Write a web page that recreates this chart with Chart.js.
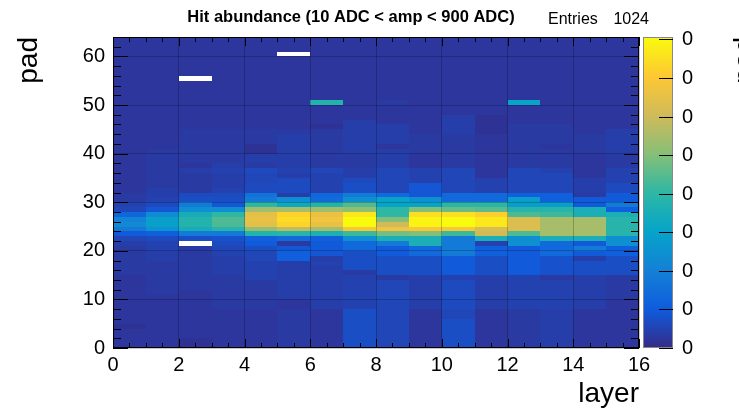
<!DOCTYPE html>
<html>
<head>
<meta charset="utf-8">
<script src="https://cdn.jsdelivr.net/npm/chart.js@4.4.1/dist/chart.umd.min.js"></script>
<style>
  html, body { margin: 0; padding: 0; background: #fff; }
  #wrap { position: relative; width: 739px; height: 411px; }
</style>
</head>
<body>
<div id="wrap"><canvas id="c" width="739" height="411"></canvas></div>
<script>
// Hit abundance per (layer, pad) cell, in percent of the colour-scale maximum.
// Each array lists pads 0..63 for one layer. A value of 0 means no hits (cell left empty).
const layer0  = [3,3,3,3,2,3,3,3,3,3, 3,3,3,3,3,4,4,4,4,4, 4,5,7,12,23,28,26,16,7,6, 4,4,3,3,3,3,3,3,3,3, 3,3,3,3,3,3,3,3,3,3, 3,3,3,3,3,3,3,3,3,3, 3,3,3,3];
const layer1  = [3,3,3,3,3,3,3,3,3,3, 3,4,4,4,4,4,4,4,5,5, 6,6,8,14,32,36,36,29,11,8, 6,5,5,4,4,4,4,4,4,4, 4,3,3,3,3,3,3,3,3,3, 3,3,3,3,3,3,3,3,3,3, 3,3,3,3];
const layer2  = [2,2,3,3,3,3,3,3,3,3, 3,3,4,4,4,4,4,4,4,4, 4,0,9,23,43,47,47,43,30,23, 9,8,4,4,4,4,5,3,4,4, 4,4,4,4,4,3,3,3,3,3, 3,3,3,3,3,0,3,3,3,3, 3,3,3,3];
const layer3  = [3,3,3,3,3,3,3,3,4,4, 4,4,4,4,4,5,5,5,5,6, 7,8,10,23,48,54,55,50,30,11, 9,8,6,5,5,5,6,5,4,4, 4,4,4,4,4,3,3,3,3,3, 3,3,3,3,3,3,3,3,3,3, 3,3,3,3];
const layer4  = [3,3,3,3,3,3,3,3,4,4, 4,4,4,4,6,6,6,6,7,7, 9,12,14,47,65,80,82,80,67,50, 23,20,8,8,7,7,8,4,5,5, 2,2,4,4,4,3,3,3,3,3, 3,3,3,3,3,3,3,3,3,3, 3,3,3,3];
const layer5  = [4,4,4,4,4,4,4,4,3,3, 5,5,5,5,5,5,5,5,14,14, 11,4,17,48,72,90,92,90,68,40, 30,5,8,8,8,5,6,5,5,5, 5,5,5,5,4,3,3,3,3,3, 3,3,3,3,3,3,3,3,3,3, 0,3,3,3];
const layer6  = [3,3,3,3,3,3,3,3,5,5, 5,5,5,5,5,5,5,6,5,11, 12,12,14,45,68,82,84,82,67,47, 18,16,6,6,6,6,7,4,4,4, 4,4,4,4,4,2,3,3,3,3, 47,3,3,3,3,3,3,3,3,3, 3,3,3,3];
const layer7  = [9,9,9,9,9,9,9,9,6,6, 6,6,6,6,6,4,9,9,9,9, 17,17,30,52,86,100,100,95,64,55, 30,23,9,9,8,5,5,4,4,4, 5,5,5,5,5,5,5,3,3,3, 3,3,3,3,3,3,3,3,3,3, 3,3,3,3];
const layer8  = [7,7,7,7,7,7,7,7,7,7, 7,7,7,7,4,9,9,9,9,12, 12,23,44,60,83,75,62,50,50,38, 38,17,7,7,7,7,7,5,5,5, 5,3,5,5,5,5,3,3,3,3, 4,3,3,3,3,3,3,3,3,3, 3,3,3,3];
const layer9  = [3,3,3,3,3,3,3,3,5,5, 5,5,5,5,5,9,9,9,9,17, 17,44,44,62,86,98,98,93,62,38, 30,11,11,11,6,6,6,3,3,3, 4,4,4,4,3,3,3,3,3,3, 3,3,3,3,3,3,3,3,3,3, 3,3,3,3];
const layer10 = [9,9,9,9,9,9,7,7,8,8, 8,8,8,8,6,12,12,12,12,23, 23,23,23,52,86,100,100,93,58,49, 17,17,7,7,7,7,7,4,4,4, 4,4,4,4,5,5,5,5,3,3, 3,3,3,3,3,3,3,3,3,3, 3,3,3,3];
const layer11 = [3,3,3,3,3,3,3,3,5,5, 5,5,5,5,5,9,9,9,9,14, 14,6,44,75,77,95,95,89,56,49, 17,17,6,6,6,3,3,3,3,3, 3,3,3,3,2,2,2,2,3,3, 3,3,3,3,3,3,3,3,3,3, 3,3,3,3];
const layer12 = [4,4,4,4,4,4,4,4,6,6, 6,6,6,6,6,12,12,12,12,12, 12,30,30,54,78,78,78,54,48,35, 35,14,7,7,7,7,7,4,4,4, 4,4,4,4,4,4,3,3,3,3, 38,3,3,3,3,3,3,3,3,3, 3,3,3,3];
const layer13 = [5,5,5,5,5,5,5,5,6,6, 6,6,6,6,4,10,10,10,10,17, 17,17,44,68,68,68,68,52,48,35, 14,14,7,7,7,7,6,4,4,4, 4,3,4,4,4,4,3,3,3,3, 3,3,3,3,3,3,3,3,3,3, 3,3,3,3];
const layer14 = [3,3,3,3,3,3,3,3,5,5, 5,5,5,5,5,9,9,9,5,12, 23,12,44,68,68,68,68,44,44,12, 12,4,5,5,5,3,3,3,3,3, 4,4,4,4,3,3,3,3,3,3, 3,3,3,3,3,3,3,3,3,3, 3,3,3,3];
const layer15 = [3,3,3,3,3,3,3,3,3,3, 4,4,4,4,4,9,9,9,9,14, 14,30,30,48,48,48,48,44,14,23, 12,12,8,8,6,6,6,4,4,4, 5,5,5,5,5,3,3,3,3,3, 3,3,3,3,3,3,3,3,3,3, 3,3,3,3];

const hitsByLayer = [layer0, layer1, layer2, layer3, layer4, layer5, layer6, layer7,
                     layer8, layer9, layer10, layer11, layer12, layer13, layer14, layer15];

// Axis ranges and tick labels
const layerTicks = [0, 2, 4, 6, 8, 10, 12, 14, 16];
const padTicks = [0, 10, 20, 30, 40, 50, 60];
const zMax = 100;
const zTicks = [0, 12.4, 24.8, 37.2, 49.6, 62, 74.4, 86.8, 99.2];
const zTickLabels = ['0', '0', '0', '0', '0', '0', '0', '0', '0'];

const titleText = 'Hit abundance (10 ADC < amp < 900 ADC)';
const statsLabel = 'Entries';
const statsValue = '1024';

// kBird palette stops
const birdStops = [0, 0.125, 0.25, 0.375, 0.5, 0.625, 0.75, 0.875, 1];
const birdR = [0.2082, 0.0592, 0.0780, 0.0232, 0.1802, 0.5301, 0.8186, 0.9956, 0.9764];
const birdG = [0.1664, 0.3599, 0.5041, 0.6419, 0.7178, 0.7492, 0.7328, 0.7862, 0.9832];
const birdB = [0.5293, 0.8684, 0.8385, 0.7914, 0.6425, 0.4662, 0.3499, 0.1968, 0.0539];

function birdColor(f) {
  f = Math.max(0, Math.min(1, f));
  let k = 0;
  while (k < birdStops.length - 2 && f > birdStops[k + 1]) k++;
  const t = (f - birdStops[k]) / (birdStops[k + 1] - birdStops[k]);
  const mix = (a) => Math.round(255 * (a[k] + (a[k + 1] - a[k]) * t));
  return `rgb(${mix(birdR)},${mix(birdG)},${mix(birdB)})`;
}

// One point per cell, centred in its bin; the plugin below paints the bins.
const cells = [];
hitsByLayer.forEach((pads, layer) => {
  pads.forEach((v, pad) => cells.push({ x: layer + 0.5, y: pad + 0.5, v: v }));
});

const FONT = "'Liberation Sans', Arial, Helvetica, sans-serif";

const heatmapPlugin = {
  id: 'heatmap',
  beforeDatasetsDraw(chart) {
    const { ctx, scales: { x, y }, chartArea: a } = chart;
    ctx.save();
    ctx.beginPath();
    ctx.rect(a.left, a.top, a.right - a.left, a.bottom - a.top);
    ctx.clip();
    for (const c of chart.data.datasets[0].data) {
      if (c.v <= 0) continue;
      const x0 = Math.round(x.getPixelForValue(c.x - 0.5));
      const x1 = Math.round(x.getPixelForValue(c.x + 0.5));
      const y0 = Math.round(y.getPixelForValue(c.y + 0.5));
      const y1 = Math.round(y.getPixelForValue(c.y - 0.5));
      ctx.fillStyle = birdColor(c.v / zMax);
      ctx.fillRect(x0, y0, x1 - x0, y1 - y0);
    }
    ctx.restore();
  },
  afterDraw(chart) {
    const { ctx, scales: { x, y }, chartArea: a } = chart;
    ctx.save();
    // frame
    ctx.strokeStyle = '#000';
    ctx.lineWidth = 1;
    ctx.strokeRect(a.left + 0.5, a.top + 0.5, a.right - a.left - 1, a.bottom - a.top - 1);

    // inward ticks on all four sides
    ctx.beginPath();
    for (let v = 0; v <= 16.0001; v += 0.5) {
      const px = Math.round(x.getPixelForValue(v)) + 0.5;
      const len = (Math.abs(v % 2) < 1e-6) ? 9 : 5;
      ctx.moveTo(px, a.bottom); ctx.lineTo(px, a.bottom - len);
      ctx.moveTo(px, a.top); ctx.lineTo(px, a.top + len);
    }
    for (let v = 0; v <= 64; v += 2) {
      const py = Math.round(y.getPixelForValue(v)) + 0.5;
      const len = (v % 10 === 0) ? 15 : 8;
      ctx.moveTo(a.left, py); ctx.lineTo(a.left + len, py);
      ctx.moveTo(a.right, py); ctx.lineTo(a.right - len, py);
    }
    ctx.stroke();

    // colour scale
    const bx0 = a.right + 4, bx1 = a.right + 34;
    for (let py = a.top; py < a.bottom; py++) {
      const f = (a.bottom - py - 0.5) / (a.bottom - a.top);
      ctx.fillStyle = birdColor(f);
      ctx.fillRect(bx0, py, bx1 - bx0, 1);
    }
    ctx.strokeStyle = '#888';
    ctx.strokeRect(bx0 + 0.5, a.top + 0.5, bx1 - bx0 - 1, a.bottom - a.top - 1);
    ctx.strokeStyle = '#000';
    ctx.fillStyle = '#000';
    ctx.font = `20px ${FONT}`;
    ctx.textAlign = 'left';
    ctx.textBaseline = 'middle';
    ctx.beginPath();
    zTicks.forEach((z, i) => {
      const py = Math.round(a.bottom - (z / zMax) * (a.bottom - a.top)) + 0.5;
      ctx.moveTo(bx1, py); ctx.lineTo(bx1 - 14, py);
      ctx.fillText(zTickLabels[i], bx1 + 9, py);
    });
    ctx.stroke();

    // title and statistics
    ctx.font = `bold 16.5px ${FONT}`;
    ctx.textAlign = 'center';
    ctx.textBaseline = 'middle';
    ctx.fillText(titleText, 351, 17);
    ctx.font = `16px ${FONT}`;
    ctx.textAlign = 'left';
    ctx.fillText(statsLabel, 548, 20);
    ctx.textAlign = 'right';
    ctx.fillText(statsValue, 649, 20);

    // axis title of the neighbouring pad, cut by the canvas edge
    ctx.save();
    ctx.translate(745, a.top);
    ctx.rotate(-Math.PI / 2);
    ctx.font = `28px ${FONT}`;
    ctx.textAlign = 'right';
    ctx.textBaseline = 'middle';
    ctx.fillText('pad', 0, 0);
    ctx.restore();
    ctx.restore();
  }
};

new Chart(document.getElementById('c'), {
  type: 'scatter',
  data: { datasets: [{ data: cells, pointRadius: 0, pointHoverRadius: 0, showLine: false }] },
  options: {
    responsive: false,
    animation: false,
    devicePixelRatio: 1,
    layout: { padding: { top: 37, right: 100, bottom: 0, left: 0 } },
    plugins: { legend: { display: false }, tooltip: { enabled: false }, title: { display: false } },
    scales: {
      x: {
        type: 'linear', min: 0, max: 16,
        afterBuildTicks: (s) => { s.ticks = layerTicks.map(v => ({ value: v })); },
        afterFit: (s) => { s.height = 63; },
        ticks: { color: '#000', font: { family: FONT, size: 20 }, padding: 5, maxRotation: 0, autoSkip: false },
        grid: { color: 'rgba(0,0,0,0.22)', lineWidth: 1, drawTicks: false, z: 1 },
        border: { display: false },
        title: { display: true, text: 'layer', align: 'end', color: '#000', font: { family: FONT, size: 28 }, padding: { top: 0, bottom: 0 } }
      },
      y: {
        type: 'linear', min: 0, max: 64,
        afterBuildTicks: (s) => { s.ticks = padTicks.map(v => ({ value: v })); },
        afterFit: (s) => { s.width = 113; },
        ticks: { color: '#000', font: { family: FONT, size: 20 }, padding: 8, autoSkip: false },
        grid: { color: 'rgba(0,0,0,0.22)', lineWidth: 1, drawTicks: false, z: 1 },
        border: { display: false },
        title: { display: true, text: 'pad', align: 'end', color: '#000', font: { family: FONT, size: 28 }, padding: { top: 12, bottom: 0 } }
      }
    }
  },
  plugins: [heatmapPlugin]
});
</script>
</body>
</html>
